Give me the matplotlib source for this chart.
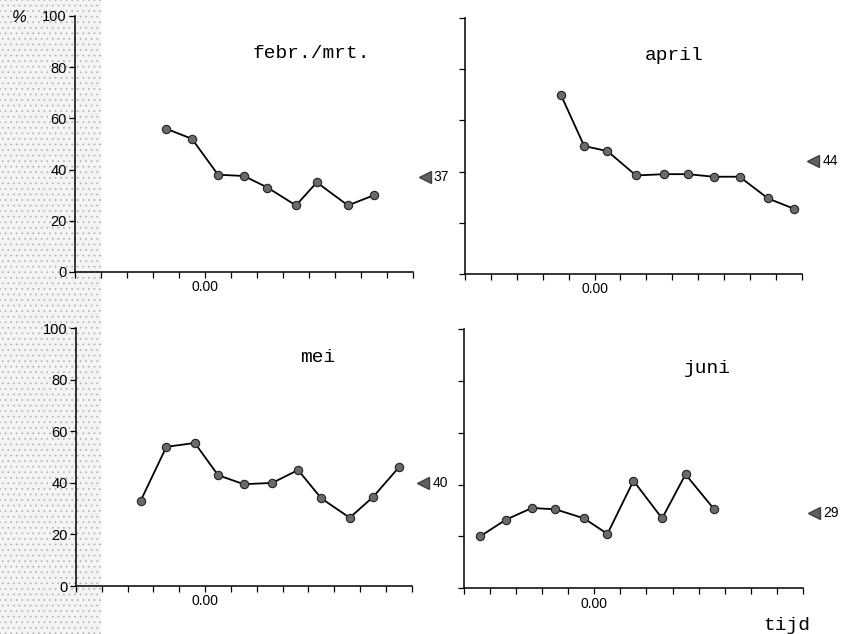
import matplotlib.pyplot as plt
from matplotlib.patches import Rectangle

plt.rcParams['hatch.linewidth'] = 0.5

# tijd (hours relative to 0.00) and percentages per period
feb_x = [-1.5, -0.5, 0.5, 1.5, 2.4, 3.5, 4.3, 5.5, 6.5]
feb_y = [56, 52, 38, 37.5, 33, 26, 35, 26, 30]

apr_x = [-1.3, -0.4, 0.5, 1.6, 2.7, 3.6, 4.6, 5.6, 6.7, 7.7]
apr_y = [70, 50, 48, 38.5, 39, 39, 38, 38, 29.5, 25.5]

mei_x = [-2.5, -1.5, -0.4, 0.5, 1.5, 2.6, 3.6, 4.5, 5.6, 6.5, 7.5]
mei_y = [33, 54, 55.5, 43, 39.5, 40, 45, 34, 26.5, 34.5, 46]

jun_x = [-4.4, -3.4, -2.4, -1.5, -0.4, 0.5, 1.5, 2.6, 3.5, 4.6]
jun_y = [20, 26.5, 31, 30.5, 27, 21, 41.5, 27, 44, 30.5]

periods = ['febr./mrt.', 'april', 'mei', 'juni']
averages = [37, 44, 40, 29]
series_x = [feb_x, apr_x, mei_x, jun_x]
series_y = [feb_y, apr_y, mei_y, jun_y]

# axes boxes [left, bottom, width, height] and title anchor (axes fraction)
boxes = [
    [0.0877, 0.571, 0.3953, 0.4038],
    [0.5439, 0.5678, 0.3938, 0.4038],
    [0.0889, 0.0757, 0.3926, 0.4065],
    [0.543, 0.0721, 0.3958, 0.4085],
]
title_pos = [(0.7, 0.855), (0.62, 0.855), (0.72, 0.885), (0.72, 0.847)]

fig = plt.figure(figsize=(8.55, 6.34), dpi=100)

# stippled band along the left edge
fig.patches.append(Rectangle((0, 0), 0.118, 1, transform=fig.transFigure,
                             facecolor='#f4f4f4', edgecolor='#b0b0b0',
                             hatch='...', linewidth=0, zorder=-10))

mono = ['Liberation Mono', 'DejaVu Sans Mono']
sans = ['Liberation Sans', 'DejaVu Sans']

for i in range(4):
    ax = fig.add_axes(boxes[i])
    ax.patch.set_alpha(0)
    ax.plot(series_x[i], series_y[i], '-', color='black', lw=1.3,
            marker='o', ms=6, mfc='#6a6a6a', mec='#222222', mew=0.8)

    ax.set_xlim(-5, 8)
    ax.set_ylim(0, 100)
    ax.set_xticks(range(-5, 9))
    ax.set_xticklabels(['0.00' if t == 0 else '' for t in range(-5, 9)],
                       family=sans, fontsize=10)
    ax.set_yticks(range(0, 101, 20))
    if i % 2 == 0:
        ax.set_yticklabels([str(v) for v in range(0, 101, 20)],
                           family=sans, fontsize=10.5)
    else:
        ax.set_yticklabels([])
    ax.tick_params(direction='out', length=4, width=0.9, pad=2)
    for side in ('top', 'right'):
        ax.spines[side].set_visible(False)
    for side in ('left', 'bottom'):
        ax.spines[side].set_linewidth(1.1)

    # period average marker outside the right end of the axis
    ax.plot([8.45], [averages[i]], marker='<', ms=9, color='#606060',
            mec='#404040', clip_on=False)
    ax.text(8.8, averages[i], str(averages[i]), family=sans, fontsize=10,
            va='center', ha='left', clip_on=False)

    ax.text(title_pos[i][0], title_pos[i][1], periods[i], transform=ax.transAxes,
            family=mono, fontsize=14, ha='center', va='center')

fig.text(0.023, 0.972, '%', family=sans, fontsize=12, style='italic',
         ha='center', va='center')
fig.text(0.92, 0.014, 'tijd', family=mono, fontsize=14, ha='center',
         va='center')

fig.savefig('out.png', dpi=100)
